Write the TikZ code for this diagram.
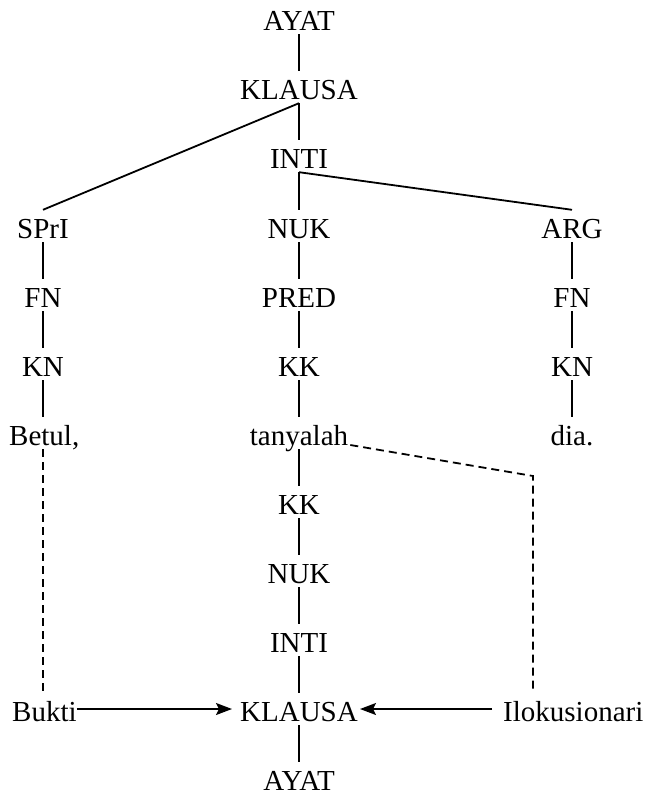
\documentclass[tikz,border=0pt]{standalone}
\usepackage{fontspec}
\setmainfont{Liberation Serif}
\usetikzlibrary{arrows.meta}
\begin{document}
\begin{tikzpicture}[x=1pt,y=-1pt,
  lbl/.style={font=\fontsize{29}{34}\selectfont, inner sep=0pt,
              text height=28pt, text depth=4pt, anchor=base},
  lblw/.style={lbl, anchor=base west},
  edge/.style={line width=1.8pt},
  link/.style={line width=1.8pt, dash pattern=on 8pt off 5pt},
  pointer/.style={line width=1.8pt, -{Stealth[length=16pt,width=12pt,inset=3pt]}}]
\useasboundingbox (0,2) rectangle (647,797);

% upper tree
\node[lbl] (ayat1)   at (299,32)  {AYAT};
\node[lbl] (klausa1) at (299,101) {KLAUSA};
\node[lbl] (inti1)   at (299,170) {INTI};

\node[lbl] (spri) at (43,240)  {SPrI};
\node[lbl] (fnL)  at (43,309)  {FN};
\node[lbl] (knL)  at (43,378)  {KN};
\node[lblw] (betul) at (9,447) {Betul,};

\node[lbl] (nuk1) at (299,240) {NUK};
\node[lbl] (pred) at (299,309) {PRED};
\node[lbl] (kk1)  at (299,378) {KK};
\node[lbl] (tanya) at (299,447) {tanyalah};

\node[lbl] (arg) at (572,240) {ARG};
\node[lbl] (fnR) at (572,309) {FN};
\node[lbl] (knR) at (572,378) {KN};
\node[lbl] (dia) at (572,447) {dia.};

% lower chain
\node[lbl] (kk2)     at (299,516) {KK};
\node[lbl] (nuk2)    at (299,585) {NUK};
\node[lbl] (inti2)   at (299,654) {INTI};
\node[lbl] (klausa2) at (299,723) {KLAUSA};
\node[lbl] (ayat2)   at (299,792) {AYAT};

\node[lblw] (bukti) at (12,723)  {Bukti};
\node[lblw] (ilok)  at (503,723) {Ilokusionari};

\coordinate (bend) at (533,478);

% tree edges
\draw[edge] (ayat1) -- (klausa1);
\draw[edge] (klausa1) -- (inti1);
\draw[edge] (klausa1.south) -- (spri.north);
\draw[edge] (inti1.south) -- (nuk1.north);
\draw[edge] (inti1.south) -- (arg.north);

\draw[edge] (spri) -- (fnL);
\draw[edge] (fnL) -- (knL);
\draw[edge] (knL.south) -- (knL.south |- betul.north);

\draw[edge] (nuk1) -- (pred);
\draw[edge] (pred) -- (kk1);
\draw[edge] (kk1) -- (tanya);
\draw[edge] (tanya) -- (kk2);
\draw[edge] (kk2) -- (nuk2);
\draw[edge] (nuk2) -- (inti2);
\draw[edge] (inti2) -- (klausa2);
\draw[edge] (klausa2) -- (ayat2);

\draw[edge] (arg) -- (fnR);
\draw[edge] (fnR) -- (knR);
\draw[edge] (knR) -- (dia);

% dashed links
\draw[link] (knL.south |- betul.south) -- (knL.south |- bukti.north);
\draw[link] ([xshift=2pt]tanya.base east) -- (bend) -- (bend |- ilok.north);

% arrows into the lower clause
\draw[pointer, shorten >=8pt] (bukti.east) -- (klausa2.west);
\draw[pointer, shorten >=2pt, shorten <=11pt] (ilok.west) -- (klausa2.east);
\end{tikzpicture}
\end{document}
